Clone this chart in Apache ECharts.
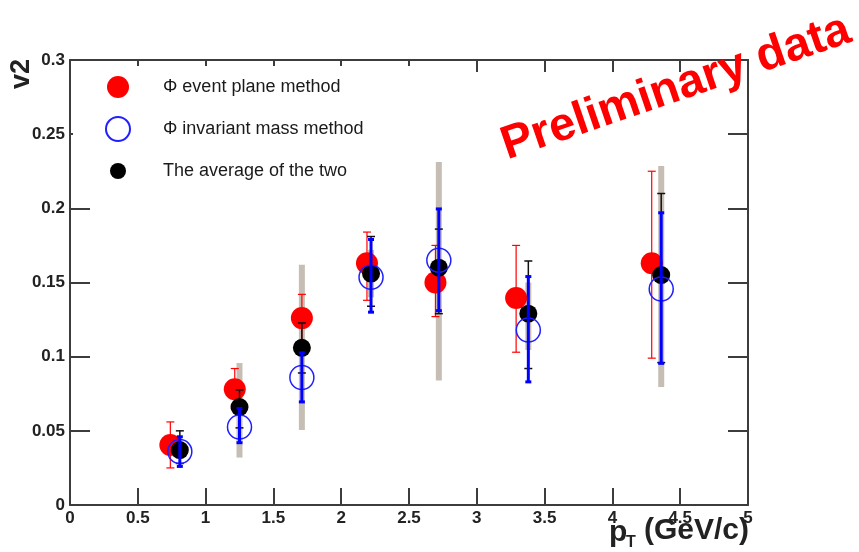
<!DOCTYPE html>
<html>
<head>
<meta charset="utf-8">
<script src="https://cdn.jsdelivr.net/npm/echarts@6/dist/echarts.min.js"></script>
<style>
  html, body { margin: 0; padding: 0; background: #fff; }
  #app { width: 859px; height: 552px; }
</style>
</head>
<body>
<div id="app"></div>
<script>
// phi v2 vs pT, three methods
const xTicks = [0, 0.5, 1, 1.5, 2, 2.5, 3, 3.5, 4, 4.5, 5];
const yTicks = [0, 0.05, 0.1, 0.15, 0.2, 0.25, 0.3];

// event plane method (red)
const epX = [0.74, 1.215, 1.71, 2.19, 2.695, 3.29, 4.29];
const epY = [0.0405, 0.078, 0.126, 0.163, 0.150, 0.1395, 0.163];
const epLo = [0.025, 0.065, 0.110, 0.138, 0.127, 0.103, 0.099];
const epHi = [0.056, 0.092, 0.142, 0.184, 0.175, 0.175, 0.225];

// invariant mass method (blue)
const imX = [0.81, 1.25, 1.71, 2.22, 2.72, 3.38, 4.36];
const imY = [0.036, 0.0526, 0.086, 0.1535, 0.165, 0.118, 0.1456];
const imLo = [0.026, 0.042, 0.0695, 0.130, 0.131, 0.083, 0.0955];
const imHi = [0.046, 0.065, 0.1025, 0.179, 0.1996, 0.154, 0.197];

// average of the two (black) + systematic band (grey)
const avX = [0.81, 1.25, 1.71, 2.22, 2.72, 3.38, 4.36];
const avY = [0.037, 0.066, 0.106, 0.156, 0.160, 0.129, 0.155];
const avLo = [0.028, 0.052, 0.089, 0.134, 0.129, 0.092, 0.096];
const avHi = [0.050, 0.0776, 0.1227, 0.181, 0.186, 0.1645, 0.210];
const sysLo = [0.031, 0.032, 0.0506, 0.140, 0.084, 0.1045, 0.0796];
const sysHi = [0.043, 0.0957, 0.162, 0.172, 0.2313, 0.150, 0.2286];

const names = ['\u03A6 event plane method', '\u03A6 invariant mass method', 'The average of the two'];

const font = 'Liberation Sans, Arial, Helvetica, sans-serif';
const axisColor = '#3c3c3c';

const points = (xs, ys) => xs.map((x, i) => [x, ys[i]]);
const ranges = (xs, lo, hi) => xs.map((x, i) => [x, lo[i], hi[i]]);

const errorBar = (data, color, width, cap, capWidth, z) => ({
  type: 'custom',
  z,
  silent: true,
  clip: false,
  encode: { x: 0, y: [1, 2] },
  data,
  renderItem: (params, api) => {
    const a = api.coord([api.value(0), api.value(1)]);
    const b = api.coord([api.value(0), api.value(2)]);
    const style = { stroke: color, lineWidth: width };
    const children = [{ type: 'line', shape: { x1: a[0], y1: a[1], x2: b[0], y2: b[1] }, style }];
    if (cap) {
      const cs = { stroke: color, lineWidth: capWidth };
      children.push({ type: 'line', shape: { x1: a[0] - cap / 2, y1: a[1], x2: a[0] + cap / 2, y2: a[1] }, style: cs });
      children.push({ type: 'line', shape: { x1: b[0] - cap / 2, y1: b[1], x2: b[0] + cap / 2, y2: b[1] }, style: cs });
    }
    return { type: 'group', children };
  }
});

const labelStyle = { fontFamily: font, fontWeight: 'bold', fontSize: 17, color: '#222' };
const frameLine = { show: true, onZero: false, lineStyle: { color: axisColor, width: 2 } };
const tick = len => ({ show: true, inside: true, length: len, lineStyle: { color: axisColor, width: 2 } });

const option = {
  animation: false,
  backgroundColor: '#fff',
  grid: { left: 70, right: 111, top: 60, bottom: 47 },
  legend: {
    orient: 'vertical',
    left: 73,
    top: 66,
    z: 50,
    padding: [9, 25, 15, 32],
    itemWidth: 24,
    itemHeight: 24,
    itemGap: 17,
    selectedMode: false,
    textStyle: { fontFamily: font, fontSize: 18, color: '#1a1a1a', padding: [0, 0, 0, 28] },
    data: [
      { name: names[0], icon: 'path://M0,0M24,24M1,12A11,11,0,1,1,23,12A11,11,0,1,1,1,12Z' },
      { name: names[1], icon: 'circle' },
      { name: names[2], icon: 'path://M0,0M24,24M4,12A8,8,0,1,1,20,12A8,8,0,1,1,4,12Z' }
    ]
  },
  xAxis: [
    {
      type: 'value', min: xTicks[0], max: xTicks[xTicks.length - 1], interval: 0.5,
      axisLine: frameLine, axisTick: tick(17),
      axisLabel: { ...labelStyle, margin: 5 },
      splitLine: { show: false }
    },
    {
      type: 'value', position: 'top', min: xTicks[0], max: xTicks[xTicks.length - 1], interval: 0.5,
      axisLine: frameLine, axisTick: tick(12),
      axisLabel: { show: false },
      splitLine: { show: false }
    }
  ],
  yAxis: [
    {
      type: 'value', min: yTicks[0], max: yTicks[yTicks.length - 1], interval: 0.05,
      axisLine: frameLine, axisTick: tick(20),
      axisLabel: { ...labelStyle, margin: 5 },
      splitLine: { show: false }
    },
    {
      type: 'value', position: 'right', min: yTicks[0], max: yTicks[yTicks.length - 1], interval: 0.05,
      axisLine: frameLine, axisTick: tick(20),
      axisLabel: { show: false },
      splitLine: { show: false }
    }
  ],
  graphic: [
    // white legend box that hides the ticks behind it
    {
      type: 'rect', z: 30, silent: true,
      shape: { x: 73, y: 66, width: 362, height: 128 },
      style: { fill: '#fff' }
    },
    {
      type: 'text', x: 22, y: 74, rotation: Math.PI / 2,
      style: { text: 'v2', font: 'bold 27px ' + font, fill: '#222', align: 'center', verticalAlign: 'middle' }
    },
    {
      type: 'text', x: 609, y: 533,
      style: { text: 'p', font: 'bold 30px ' + font, fill: '#222', align: 'left', verticalAlign: 'middle' }
    },
    {
      type: 'text', x: 626, y: 543,
      style: { text: 'T', font: 'bold 16px ' + font, fill: '#222', align: 'left', verticalAlign: 'middle' }
    },
    {
      type: 'text', x: 749, y: 531,
      style: { text: '(GeV/c)', font: 'bold 30px ' + font, fill: '#222', align: 'right', verticalAlign: 'middle' }
    },
    {
      type: 'text', x: 676, y: 88, rotation: 0.33, z: 100,
      style: { text: 'Preliminary data', font: 'bold 47px ' + font, fill: '#ff0000', align: 'center', verticalAlign: 'middle' }
    }
  ],
  series: [
    errorBar(ranges(avX, sysLo, sysHi), '#c6beb4', 6, 0, 0, 1),
    {
      name: names[0], type: 'scatter', z: 2, symbol: 'circle', symbolSize: 22,
      itemStyle: { color: '#ff0000', opacity: 1 },
      data: points(epX, epY)
    },
    errorBar(ranges(epX, epLo, epHi), '#ff0000', 1.2, 8, 1.2, 3),
    errorBar(ranges(avX, avLo, avHi), '#111111', 1.5, 8, 1.5, 4),
    {
      name: names[2], type: 'scatter', z: 5, symbol: 'circle', symbolSize: 18,
      itemStyle: { color: '#000000', opacity: 1 },
      data: points(avX, avY)
    },
    {
      name: names[1], type: 'scatter', z: 6, symbol: 'circle', symbolSize: 24,
      itemStyle: { color: 'rgba(0,0,0,0)', borderColor: '#2020ff', borderWidth: 1.5, opacity: 1 },
      data: points(imX, imY)
    },
    errorBar(ranges(imX, imLo, imHi), '#0000ff', 3, 6, 3, 7)
  ]
};

const chart = echarts.init(document.getElementById('app'));
chart.setOption(option);
</script>
</body>
</html>
